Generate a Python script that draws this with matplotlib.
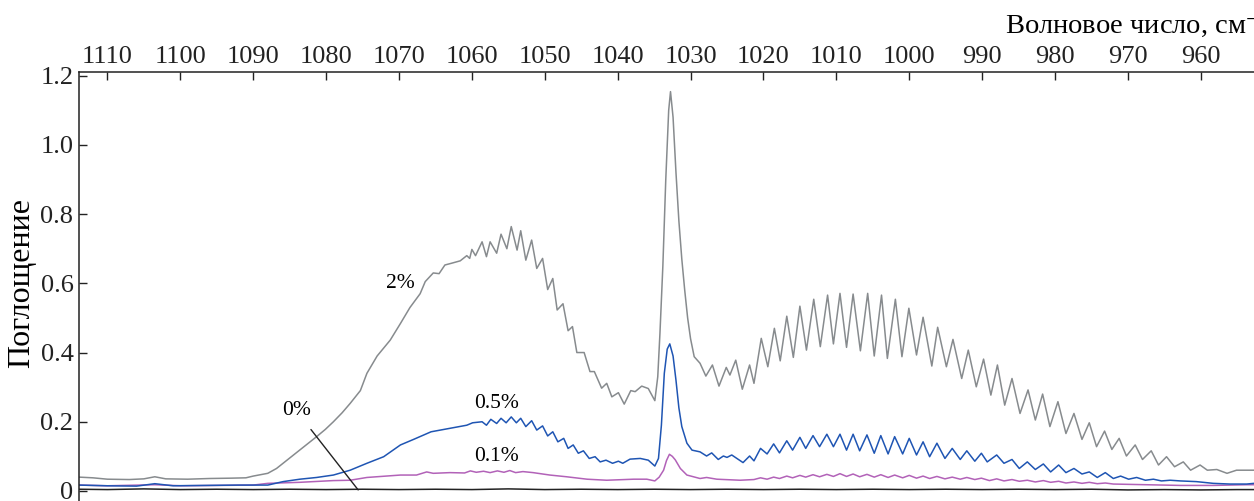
#!/usr/bin/env python3
"""
Absorption spectra, 0-2 % (top wavenumber axis)
"""
import matplotlib.pyplot as plt

# wavenumber (cm-1) / absorbance
wn_2 = [1113.9, 1112, 1110, 1107, 1105, 1103.5, 1102, 1099, 1096, 1093, 1091,
        1090, 1088, 1086.8, 1085.9, 1084.8, 1083.6, 1082.4, 1081.3, 1080.1,
        1079, 1077.8, 1076.7, 1075.3, 1074.4, 1073, 1071.2, 1069.8, 1068.5,
        1067.1, 1066.4, 1065.3, 1064.5, 1063.7, 1062.8, 1061.6, 1060.7, 1060.3,
        1060.0, 1059.5, 1058.6, 1058.0, 1057.5, 1056.6, 1056.0, 1055.2, 1054.6,
        1053.8, 1053.3, 1052.6, 1051.8, 1051.1, 1050.3, 1049.6, 1048.9, 1048.3,
        1047.5, 1046.8, 1046.2, 1045.6, 1044.6, 1043.8, 1043.2, 1042.2, 1041.5,
        1040.8, 1039.9, 1039.1, 1038.2, 1037.6, 1036.7, 1035.8, 1034.9, 1034.5,
        1034.2, 1033.8, 1033.4, 1033.0, 1032.75, 1032.4, 1032.0, 1031.6, 1031.2,
        1030.8, 1030.4, 1030.0, 1029.5, 1028.7, 1027.9, 1027.0, 1026.1, 1025.1,
        1024.6, 1023.8, 1022.9, 1021.9, 1021.3, 1020.3, 1019.4, 1018.5, 1017.7,
        1016.8, 1015.9, 1015.0, 1014.1, 1013.1, 1012.2, 1011.2, 1010.4, 1009.5,
        1008.6, 1007.7, 1006.7, 1005.7, 1004.8, 1003.8, 1003.0, 1001.9, 1001.0,
        1000.05, 999.0, 998.1, 996.9, 996.1, 994.9, 994.0, 992.8, 991.9, 990.8,
        989.8, 988.8, 987.9, 986.9, 985.9, 984.8, 983.7, 982.7, 981.7, 980.7,
        979.6, 978.5, 977.4, 976.3, 975.3, 974.3, 973.2, 972.2, 971.2, 970.2,
        969.0, 968.0, 966.8, 965.8, 964.7, 963.6, 962.4, 961.4, 960.1, 959.1,
        957.8, 956.4, 955.1, 952.7]
abs_2 = [0.040, 0.038, 0.034, 0.033, 0.035, 0.041, 0.035, 0.034, 0.036, 0.037,
         0.038, 0.043, 0.051, 0.065, 0.080, 0.098, 0.118, 0.138, 0.157, 0.178,
         0.200, 0.226, 0.253, 0.290, 0.340, 0.390, 0.436, 0.484, 0.530, 0.570,
         0.605, 0.630, 0.628, 0.653, 0.658, 0.665, 0.680, 0.672, 0.698, 0.680,
         0.720, 0.677, 0.720, 0.687, 0.742, 0.700, 0.764, 0.696, 0.752, 0.667,
         0.725, 0.643, 0.672, 0.582, 0.614, 0.523, 0.541, 0.463, 0.475, 0.400,
         0.400, 0.345, 0.345, 0.297, 0.311, 0.272, 0.284, 0.251, 0.290, 0.287,
         0.303, 0.296, 0.261, 0.330, 0.455, 0.650, 0.900, 1.100, 1.154, 1.080,
         0.920, 0.780, 0.670, 0.580, 0.500, 0.440, 0.388, 0.369, 0.332, 0.364,
         0.303, 0.357, 0.335, 0.378, 0.294, 0.364, 0.311, 0.441, 0.359, 0.470,
         0.376, 0.505, 0.386, 0.534, 0.407, 0.554, 0.417, 0.566, 0.425, 0.571,
         0.415, 0.569, 0.405, 0.571, 0.390, 0.566, 0.383, 0.554, 0.388, 0.528,
         0.393, 0.502, 0.361, 0.473, 0.359, 0.438, 0.325, 0.407, 0.301, 0.381,
         0.277, 0.364, 0.248, 0.325, 0.224, 0.292, 0.205, 0.280, 0.186, 0.258,
         0.166, 0.224, 0.149, 0.197, 0.128, 0.173, 0.120, 0.152, 0.101, 0.133,
         0.091, 0.116, 0.075, 0.099, 0.070, 0.084, 0.060, 0.075, 0.060, 0.062,
         0.051, 0.060, 0.060]

wn_05 = [1113.9, 1110, 1106, 1103.5, 1101, 1096, 1092, 1088, 1085.9, 1083.6,
         1081.3, 1079, 1076.7, 1074.4, 1072.1, 1069.8, 1068, 1065.6, 1063,
         1060.7, 1059.9, 1058.6, 1058.0, 1057.4, 1056.6, 1056.0, 1055.3, 1054.6,
         1053.9, 1053.3, 1052.6, 1051.8, 1051.1, 1050.3, 1049.6, 1048.9, 1048.2,
         1047.4, 1046.8, 1046.1, 1045.4, 1044.7, 1043.9, 1043.1, 1042.4, 1041.6,
         1040.7, 1039.9, 1039.3, 1038.3, 1036.9, 1035.8, 1034.9, 1034.4, 1034.0,
         1033.6, 1033.2, 1032.85, 1032.4, 1032.0, 1031.6, 1031.2, 1030.5, 1029.8,
         1028.7, 1027.8, 1027.1, 1026.2, 1025.5, 1025.0, 1024.35, 1022.8, 1021.9,
         1021.3, 1020.4, 1019.5, 1018.6, 1017.8, 1016.8, 1016.0, 1015.0, 1014.2,
         1013.2, 1012.3, 1011.3, 1010.4, 1009.5, 1008.6, 1007.7, 1006.8, 1005.8,
         1004.8, 1003.9, 1002.9, 1002.0, 1000.9, 1000.0, 999.0, 998.1, 997.2,
         996.2, 995.1, 994.1, 993.0, 992.1, 991.0, 990.1, 989.3, 988.0, 987.0,
         985.9, 984.9, 983.8, 982.7, 981.6, 980.6, 979.5, 978.5, 977.4, 976.3,
         975.3, 974.2, 973.1, 972.0, 971.0, 969.9, 968.8, 967.6, 966.5, 965.4,
         964.2, 962.8, 960.6, 958.3, 956.0, 953.7, 952.7]
abs_05 = [0.017, 0.015, 0.014, 0.021, 0.015, 0.016, 0.017, 0.017, 0.027, 0.034,
          0.039, 0.046, 0.060, 0.080, 0.099, 0.133, 0.149, 0.171, 0.181, 0.190,
          0.197, 0.200, 0.190, 0.207, 0.195, 0.210, 0.197, 0.214, 0.197, 0.210,
          0.186, 0.203, 0.176, 0.188, 0.159, 0.171, 0.142, 0.152, 0.123, 0.133,
          0.109, 0.116, 0.094, 0.099, 0.084, 0.089, 0.080, 0.086, 0.080, 0.092,
          0.094, 0.089, 0.072, 0.094, 0.190, 0.340, 0.410, 0.425, 0.390, 0.320,
          0.240, 0.186, 0.138, 0.118, 0.113, 0.101, 0.110, 0.091, 0.101, 0.097,
          0.104, 0.082, 0.101, 0.087, 0.123, 0.107, 0.136, 0.110, 0.145, 0.118,
          0.155, 0.123, 0.160, 0.128, 0.164, 0.128, 0.164, 0.118, 0.164, 0.116,
          0.162, 0.109, 0.160, 0.107, 0.157, 0.107, 0.152, 0.104, 0.142, 0.099,
          0.138, 0.094, 0.123, 0.091, 0.116, 0.086, 0.109, 0.084, 0.104, 0.080,
          0.091, 0.065, 0.084, 0.062, 0.078, 0.055, 0.075, 0.053, 0.065, 0.049,
          0.055, 0.039, 0.053, 0.036, 0.043, 0.034, 0.039, 0.031, 0.034, 0.029,
          0.031, 0.029, 0.027, 0.022, 0.020, 0.020, 0.022]

wn_01 = [1113.9, 1110, 1103.5, 1100, 1095, 1090, 1088, 1083.6, 1079, 1076.7,
         1074.4, 1069.8, 1067.6, 1066.2, 1065.3, 1063, 1061.0, 1060.2, 1059.4,
         1058.4, 1057.5, 1056.5, 1055.6, 1054.8, 1054.0, 1053.0, 1051.6, 1049.3,
         1047.0, 1044.2, 1041.5, 1037.8, 1036.0, 1034.9, 1034.3, 1033.7, 1033.3,
         1032.9, 1032.5, 1032.1, 1031.4, 1030.5, 1028.7, 1027.8, 1026.4, 1023.2,
         1021.3, 1020.4, 1019.5, 1018.6, 1017.8, 1016.8, 1016.0, 1015.0, 1014.2,
         1013.2, 1012.3, 1011.3, 1010.4, 1009.5, 1008.6, 1007.7, 1006.8, 1005.8,
         1004.8, 1003.9, 1002.9, 1002.0, 1000.9, 1000.0, 999.0, 998.1, 997.2,
         996.2, 995.1, 994.1, 993.0, 992.1, 991.0, 990.1, 989.0, 988.0, 987.0,
         985.9, 984.9, 983.8, 982.7, 981.6, 980.6, 979.5, 978.5, 977.4, 976.3,
         975.3, 974.2, 973.1, 972.0, 967.4, 962.8, 958.3, 953.7, 952.7]
abs_01 = [0.017, 0.015, 0.018, 0.015, 0.016, 0.017, 0.022, 0.025, 0.030, 0.031,
          0.039, 0.046, 0.046, 0.055, 0.051, 0.053, 0.052, 0.058, 0.054, 0.057,
          0.053, 0.058, 0.054, 0.059, 0.053, 0.056, 0.053, 0.046, 0.041, 0.034,
          0.031, 0.034, 0.034, 0.029, 0.040, 0.060, 0.088, 0.106, 0.100, 0.090,
          0.065, 0.046, 0.036, 0.039, 0.034, 0.031, 0.033, 0.038, 0.034, 0.040,
          0.036, 0.043, 0.038, 0.045, 0.040, 0.047, 0.041, 0.048, 0.042, 0.050,
          0.042, 0.049, 0.041, 0.048, 0.040, 0.047, 0.039, 0.046, 0.038, 0.045,
          0.037, 0.043, 0.036, 0.042, 0.035, 0.040, 0.034, 0.039, 0.033, 0.037,
          0.030, 0.035, 0.029, 0.033, 0.028, 0.031, 0.026, 0.030, 0.025, 0.028,
          0.023, 0.026, 0.022, 0.025, 0.021, 0.023, 0.020, 0.018, 0.016, 0.016,
          0.018, 0.018]

wn_0 = [1113.9, 1110, 1105, 1100, 1095, 1090, 1085, 1080, 1075, 1070, 1065,
        1060, 1055, 1050, 1045, 1040, 1035, 1030, 1025, 1020, 1015, 1010, 1005,
        1000, 995, 990, 985, 980, 975, 970, 965, 960, 955, 952.7]
abs_0 = [0.005, 0.004, 0.006, 0.004, 0.005, 0.004, 0.005, 0.004, 0.005, 0.004,
         0.005, 0.004, 0.006, 0.004, 0.005, 0.004, 0.005, 0.004, 0.005, 0.004,
         0.005, 0.004, 0.005, 0.004, 0.005, 0.004, 0.005, 0.004, 0.005, 0.003,
         0.004, 0.003, 0.004, 0.004]

x_ticks = list(range(960, 1111, 10))
y_ticks = [0, 0.2, 0.4, 0.6, 0.8, 1.0, 1.2]
y_labels = ['0', '0.2', '0.4', '0.6', '0.8', '1.0', '1.2']

plt.rcParams['font.family'] = ['Liberation Serif', 'DejaVu Serif']
plt.rcParams['mathtext.fontset'] = 'stix'

W, H = 1254, 501
fig = plt.figure(figsize=(W / 100, H / 100), dpi=100)
ax = fig.add_axes([79 / W, 0, 1 - 79 / W, 1 - 72 / H])

ax.plot(wn_0, abs_0, color='#222222', lw=1.1)
ax.plot(wn_01, abs_01, color='#b262b8', lw=1.1)
ax.plot(wn_05, abs_05, color='#1f55b3', lw=1.1)
ax.plot(wn_2, abs_2, color='#878b8e', lw=1.1)

ax.set_xlim(1113.9, 952.7)
ax.set_ylim(-0.029, 1.2107)
ax.xaxis.tick_top()
ax.set_xticks(x_ticks)
ax.set_yticks(y_ticks)
ax.set_yticklabels(y_labels)
ax.tick_params(direction='in', length=6, width=1, labelsize=19,
               colors='#222222')
ax.tick_params(axis='x', pad=3)
ax.tick_params(axis='y', pad=4)
for side in ['right', 'bottom']:
    ax.spines[side].set_visible(False)
for side in ['left', 'top']:
    ax.spines[side].set_linewidth(1.1)
    ax.spines[side].set_color('#222222')

ax.text(1069.8, 0.60, '2%', fontsize=15.5, ha='center', va='center')
ax.text(1056.6, 0.253, '0.5%', fontsize=15.5, ha='center', va='center')
ax.text(1056.6, 0.101, '0.1%', fontsize=15.5, ha='center', va='center')
ax.annotate('0%', xy=(1075.6, 0.003), xytext=(1084.1, 0.232), fontsize=15.5,
            ha='center', va='center',
            arrowprops=dict(arrowstyle='-', color='#222222', lw=1,
                            shrinkA=6, shrinkB=0))

fig.text(22 / W, 1 - 283 / H, 'Поглощение', rotation=90, fontsize=23,
         ha='center', va='center')
fig.text(1005 / W, 1 - 33 / H, 'Волновое число, см$^{-1}$', fontsize=20.5,
         ha='left', va='baseline')

fig.savefig('out.png', dpi=100)
